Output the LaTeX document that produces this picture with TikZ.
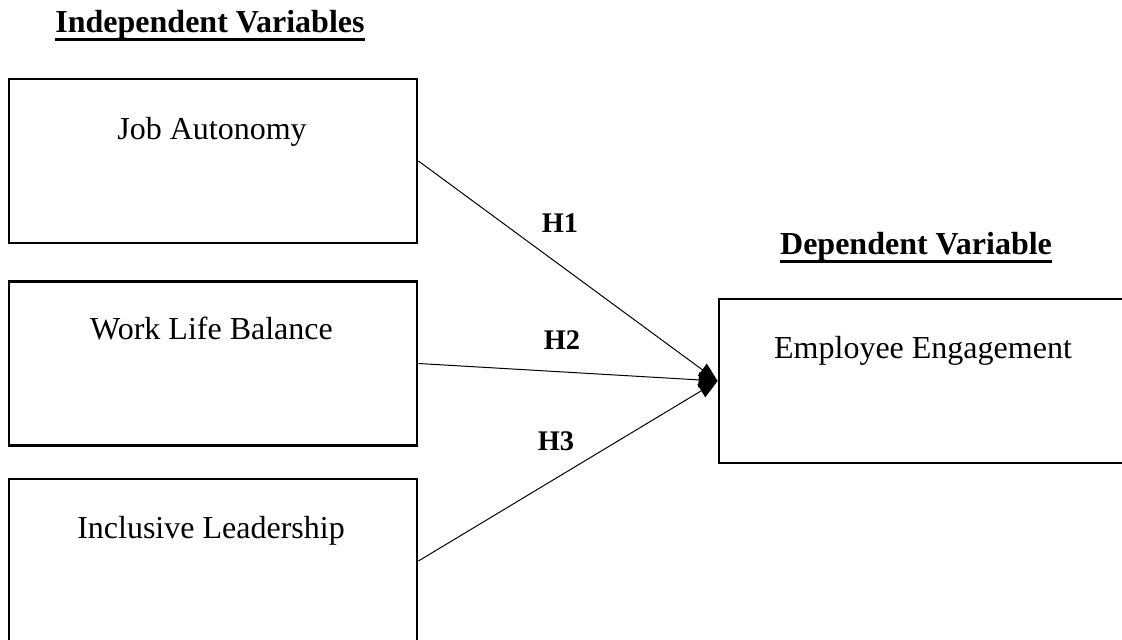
\documentclass[tikz,border=0pt]{standalone}
\usepackage{fontspec}
\setmainfont{Liberation Serif}
\usetikzlibrary{arrows.meta}
\newcommand{\figuretext}{\fontsize{16}{19}\selectfont}
\newcommand{\hyptext}{\fontsize{14.2}{17}\selectfont}
\newcommand{\headul}[1]{\setbox0\hbox{#1}\rlap{\rule[-4.1pt]{\wd0}{1.5pt}}\box0}
\tikzset{
  varbox/.style={draw=black,line width=1.4pt,minimum width=204pt,minimum height=82pt,inner sep=0pt},
  varlabel/.style={anchor=base,inner sep=0pt,font=\figuretext},
  headlabel/.style={anchor=base,inner sep=0pt,font=\figuretext\bfseries},
  hyplabel/.style={anchor=base,inner sep=0pt,font=\hyptext\bfseries},
  hyparrow/.style={line width=0.5pt,-{Triangle[length=9.5pt,width=7.5pt]}}
}

\begin{document}
\begin{tikzpicture}[x=0.5pt,y=-0.5pt]
\useasboundingbox (0,0) rectangle (1122,640);

% headings
\node[headlabel] (indephead) at (210,33) {\headul{Independent Variables}};
\node[headlabel] (dephead) at (916,255) {\headul{Dependent Variable}};

% variable boxes
\node[varbox] (ja) at (213,161) {};
\node[varlabel] (jalabel) at (212,140) {Job Autonomy};
\node[varbox] (wlb) at (213,363.5) {};
\node[varlabel] (wlblabel) at (211.5,340) {Work Life Balance};
\node[varbox] (il) at (213,561) {};
\node[varlabel] (illabel) at (211,538) {Inclusive Leadership};
\node[varbox] (ee) at (923,381) {};
\node[varlabel] (eelabel) at (923,358) {Employee Engagement};

% hypotheses
\node[hyplabel] (h1) at (560,233) {H1};
\node[hyplabel] (h2) at (562,350) {H2};
\node[hyplabel] (h3) at (556,450) {H3};

\draw[hyparrow] (ja.east) -- (ee.west);
\draw[hyparrow] (wlb.east) -- (ee.west);
\draw[hyparrow] (il.east) -- (ee.west);
\end{tikzpicture}
\end{document}
